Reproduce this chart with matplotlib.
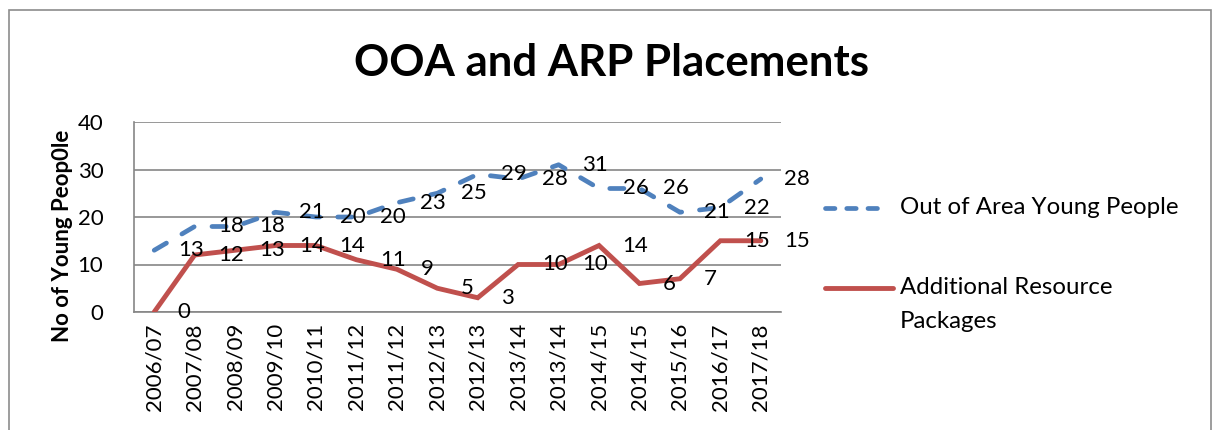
import matplotlib
matplotlib.use("Agg")
import matplotlib.pyplot as plt
from matplotlib.lines import Line2D
from matplotlib.patches import Rectangle

# data
years = ["2006/07", "2007/08", "2008/09", "2009/10", "2010/11", "2011/12",
         "2011/12", "2012/13", "2012/13", "2013/14", "2013/14", "2014/15",
         "2014/15", "2015/16", "2016/17", "2017/18"]
out_of_area = [13, 18, 18, 21, 20, 20, 23, 25, 29, 28, 31, 26, 26, 21, 22, 28]
arp = [0, 12, 13, 14, 14, 11, 9, 5, 3, 10, 10, 14, 6, 7, 15, 15]

blue = "#4F81BD"
red = "#C0504D"
grid_grey = "#868686"

plt.rcParams["font.family"] = ["Lato", "DejaVu Sans"]

W, H = 1213, 430
fig = plt.figure(figsize=(W / 100, H / 100), dpi=100)
ax = fig.add_axes([134 / W, 1 - 312 / H, (781 - 134) / W, (312 - 122) / H])

x = list(range(len(years)))
ax.plot(x, out_of_area, color=blue, lw=3.4, dashes=(3.0, 3.8),
        dash_capstyle="round", solid_capstyle="round")
ax.plot(x, arp, color=red, lw=3.5, solid_capstyle="round", solid_joinstyle="miter")

# data labels sit to the right of each point, like in the source
for i, v in enumerate(out_of_area):
    ax.annotate(str(v), (i, v), xytext=(17, 0), textcoords="offset points",
                ha="left", va="center", fontsize=16)
for i, v in enumerate(arp):
    ax.annotate(str(v), (i, v), xytext=(17, 0), textcoords="offset points",
                ha="left", va="center", fontsize=16)

ax.set_xlim(-0.5, len(years) - 0.5)
ax.set_ylim(0, 40)
ax.set_yticks([0, 10, 20, 30, 40])
ax.set_xticks(x)
ax.set_xticklabels(years, rotation=90, fontsize=16)
ax.tick_params(axis="y", labelsize=16, length=0, pad=22)
ax.tick_params(axis="x", length=0, pad=8)
ax.yaxis.grid(True, color=grid_grey, lw=1.2)
ax.set_axisbelow(True)
for s in ["top", "right"]:
    ax.spines[s].set_visible(False)
for s in ["left", "bottom"]:
    ax.spines[s].set_color(grid_grey)
    ax.spines[s].set_linewidth(1.2)
ax.spines["bottom"].set_zorder(0.5)

ax.set_ylabel("No of Young Peop0le", fontsize=16, fontweight="bold")
ax.yaxis.set_label_coords(-0.095, 0.40)
fig.text(611 / W, 1 - 63 / H, "OOA and ARP Placements", ha="center", va="center",
         fontsize=31.5, fontweight="bold")

# legend drawn by hand so the red key lines up with the first text line
fig.add_artist(Line2D([825 / W, 888 / W], [1 - 208 / H] * 2, color=blue, lw=3.4,
                      dashes=(2.0, 2.5), dash_capstyle="round",
                      transform=fig.transFigure))
fig.text(900 / W, 1 - 208 / H, "Out of Area Young People", ha="left", va="center",
         fontsize=17.3)
fig.add_artist(Line2D([825 / W, 893 / W], [1 - 288 / H] * 2, color=red, lw=3.5,
                      solid_capstyle="round", transform=fig.transFigure))
fig.text(900 / W, 1 - 288 / H, "Additional Resource", ha="left", va="center",
         fontsize=17.3)
fig.text(900 / W, 1 - 322 / H, "Packages", ha="left", va="center", fontsize=17.3)

# chart border
fig.add_artist(Rectangle((9 / W, -0.05), (1211 - 9) / W, 1 - 10 / H + 0.05,
                         transform=fig.transFigure, fill=False,
                         edgecolor="#8C8C8C", lw=1.2))

fig.savefig("out.png", dpi=100)
